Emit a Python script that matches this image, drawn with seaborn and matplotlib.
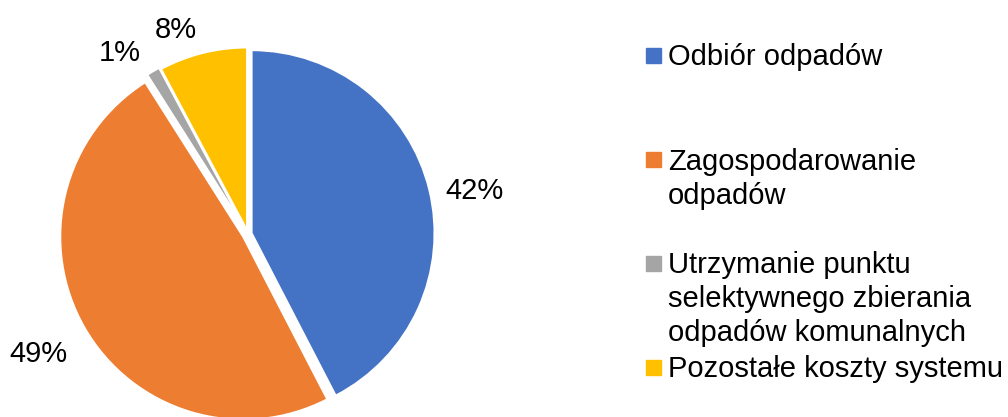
import matplotlib
matplotlib.use('Agg')
import numpy as np
import matplotlib.pyplot as plt
import matplotlib.patches as mpatches
import seaborn as sns

# shares of the waste system costs (%)
categories = ['Odbiór odpadów',
              'Zagospodarowanie\nodpadów',
              'Utrzymanie punktu\nselektywnego zbierania\nodpadów komunalnych',
              'Pozostałe koszty systemu']
shares = [42.4, 48.6, 1.2, 7.8]
colors = ['#4472C4', '#ED7D31', '#A5A5A5', '#FFC000']

sns.set_theme(style='white')
plt.rcParams['font.family'] = ['Liberation Sans', 'DejaVu Sans']
plt.rcParams['text.color'] = 'black'

fig = plt.figure(figsize=(10.08, 4.17), dpi=100)
W, H = 1008, 417
cx, cy, r = 248, 234, 183
ax = fig.add_axes([(cx - r) / W, (H - cy - r) / H, 2 * r / W, 2 * r / H])

wedges, texts, autotexts = ax.pie(
    shares, colors=colors, startangle=90, counterclock=False,
    explode=[0.02, 0.03, 0.03, 0.02], autopct='%1.0f%%',
    wedgeprops=dict(edgecolor='white', linewidth=1.5),
    textprops=dict(fontsize=21, color='black'))
for w in wedges:
    w.set_clip_on(False)

# label placement like the office "best fit": distance and angle shift
label_dist = [1.26, 1.32, 1.21, 1.18]
label_shift = [-3, 0, 5, 5.5]
for w, t, d, s in zip(wedges, autotexts, label_dist, label_shift):
    ang = np.deg2rad((w.theta1 + w.theta2) / 2 + s)
    t.set_position((d * np.cos(ang), d * np.sin(ang)))
    t.set_clip_on(False)

ax.set_xlim(-1, 1)
ax.set_ylim(-1, 1)
ax.set_aspect('equal')
ax.axis('off')

# legend drawn as in the office chart: uneven spacing between entries
rows = [55, 160, 263, 367]
for lab, col, y in zip(categories, colors, rows):
    fig.patches.append(mpatches.Rectangle((646 / W, (H - y - 7.5) / H), 15 / W, 15 / H,
                                          transform=fig.transFigure, color=col))
    fig.text(668 / W, (H - y + 12) / H, lab, fontsize=21, va='top', ha='left',
             linespacing=1.28, color='black')

fig.savefig('out.png', dpi=100, facecolor='white')
